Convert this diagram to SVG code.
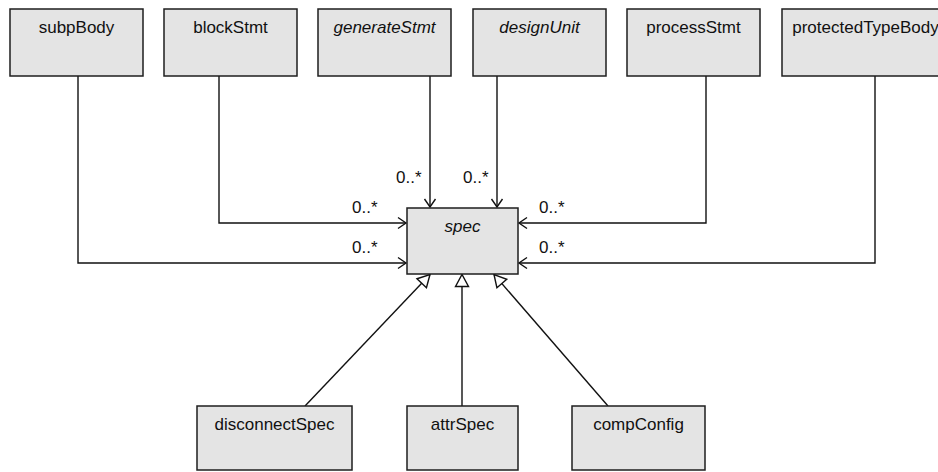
<svg xmlns="http://www.w3.org/2000/svg" width="938" height="472" viewBox="0 0 938 472">
<style>
.box{fill:#e4e4e4;stroke:#1e1e1e;stroke-width:1.5}
.t{font-family:"Liberation Sans",Arial,sans-serif;font-size:17px;fill:#111;text-anchor:middle}
.i{font-style:italic}
.c{fill:none;stroke:#111;stroke-width:1.4}
.m{font-family:"Liberation Sans",Arial,sans-serif;font-size:17px;fill:#111}
</style>
<defs>
<marker id="open" markerUnits="userSpaceOnUse" markerWidth="12" markerHeight="14" viewBox="0 0 12 14" refX="10" refY="7" orient="auto">
<path d="M2,1.5 L10,7 L2,12.5" fill="none" stroke="#111" stroke-width="1.4"/>
</marker>
<marker id="gen" markerUnits="userSpaceOnUse" markerWidth="16" markerHeight="17" viewBox="0 0 16 17" refX="14" refY="8.5" orient="auto">
<path d="M2,2 L14,8.5 L2,15 Z" fill="#fff" stroke="#111" stroke-width="1.4"/>
</marker>
</defs>
<rect width="938" height="472" fill="#fff"/>
<g id="connectors">
<polyline class="c" points="78,76 78,263 406,263" marker-end="url(#open)"/>
<polyline class="c" points="219,76 219,223 406,223" marker-end="url(#open)"/>
<polyline class="c" points="430,76 430,207" marker-end="url(#open)"/>
<polyline class="c" points="497,76 497,207" marker-end="url(#open)"/>
<polyline class="c" points="706,76 706,223 519,223" marker-end="url(#open)"/>
<polyline class="c" points="875,76 875,263 519,263" marker-end="url(#open)"/>
<line class="c" x1="305" y1="406" x2="430" y2="274.5" marker-end="url(#gen)"/>
<line class="c" x1="462" y1="406" x2="462" y2="274.5" marker-end="url(#gen)"/>
<line class="c" x1="608" y1="406" x2="494" y2="274.5" marker-end="url(#gen)"/>
<text class="m" x="396" y="183">0..*</text>
<text class="m" x="463" y="183">0..*</text>
<text class="m" x="352" y="213">0..*</text>
<text class="m" x="352" y="253">0..*</text>
<text class="m" x="539" y="213">0..*</text>
<text class="m" x="539" y="253">0..*</text>
</g>
<g id="subpBody"><rect class="box" x="10" y="9" width="133" height="67"/><text class="t" x="76.5" y="33">subpBody</text></g>
<g id="blockStmt"><rect class="box" x="164" y="9" width="133" height="67"/><text class="t" x="230.5" y="33">blockStmt</text></g>
<g id="generateStmt"><rect class="box" x="318" y="9" width="133" height="67"/><text class="t i" x="384.5" y="33">generateStmt</text></g>
<g id="designUnit"><rect class="box" x="473" y="9" width="133" height="67"/><text class="t i" x="539.5" y="33">designUnit</text></g>
<g id="processStmt"><rect class="box" x="627" y="9" width="133" height="67"/><text class="t" x="693.5" y="33">processStmt</text></g>
<g id="protectedTypeBody"><rect class="box" x="782" y="9" width="168" height="67"/><text class="t" x="865.5" y="33">protectedTypeBody</text></g>
<g id="spec"><rect class="box" x="407" y="208" width="111" height="66"/><text class="t i" x="462.5" y="232">spec</text></g>
<g id="disconnectSpec"><rect class="box" x="197" y="406" width="155" height="64"/><text class="t" x="274.5" y="430">disconnectSpec</text></g>
<g id="attrSpec"><rect class="box" x="407" y="406" width="111" height="64"/><text class="t" x="462.5" y="430">attrSpec</text></g>
<g id="compConfig"><rect class="box" x="572" y="406" width="133" height="64"/><text class="t" x="638.5" y="430">compConfig</text></g>
</svg>
